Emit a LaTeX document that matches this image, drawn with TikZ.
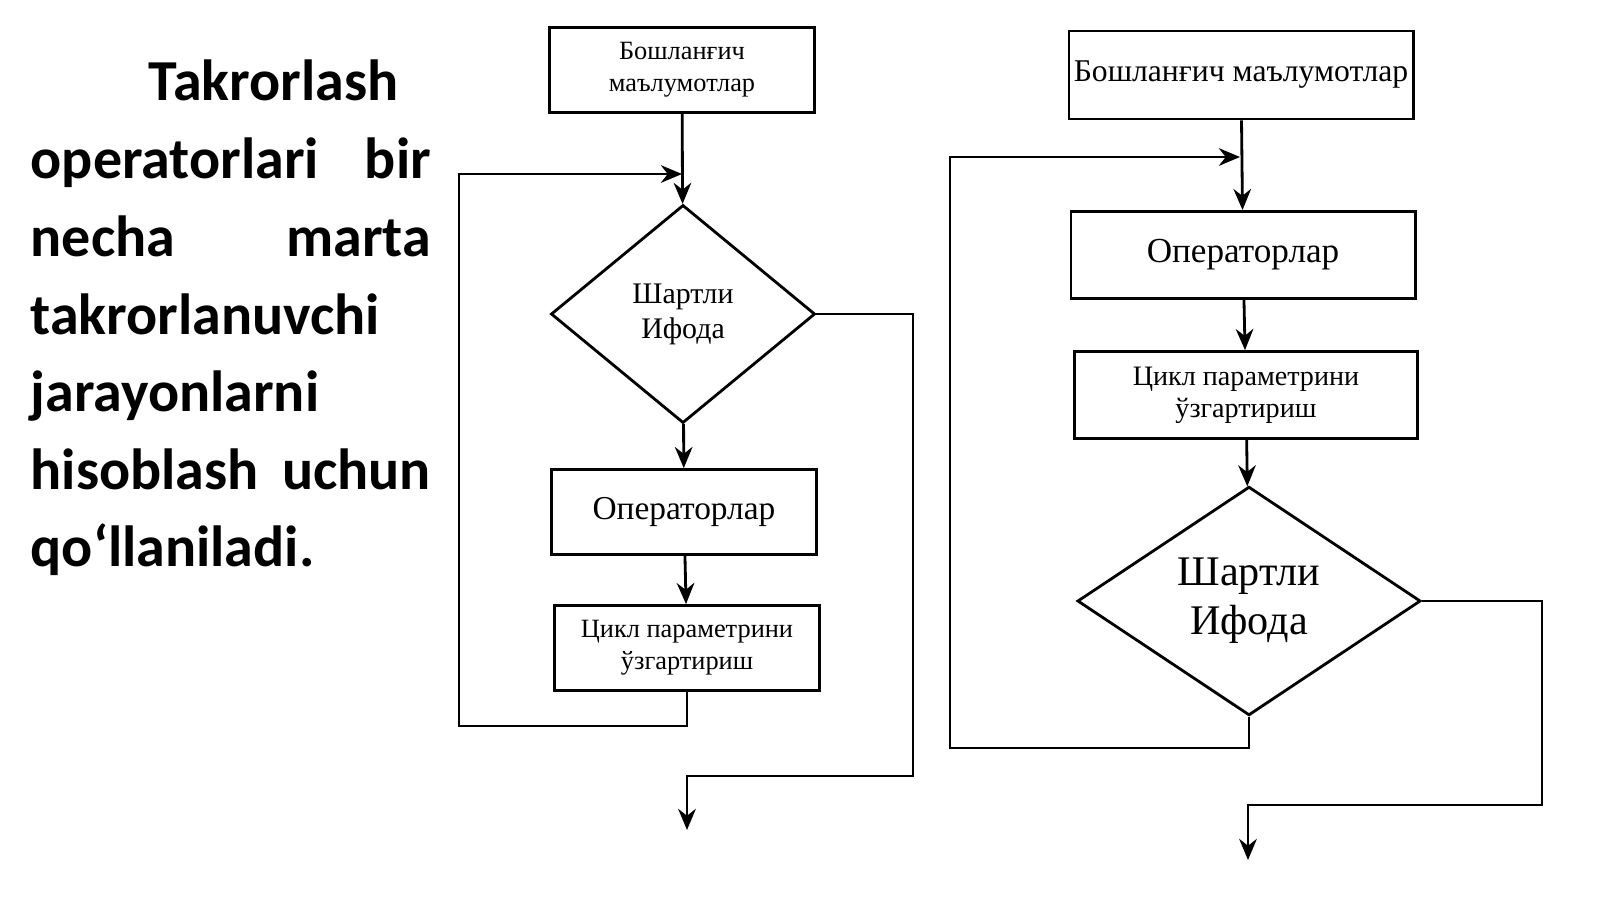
\documentclass[tikz,border=0pt]{standalone}
\usepackage{fontspec}
\setmainfont{Liberation Serif}
\newfontfamily\calib{Carlito}
\usetikzlibrary{shapes.geometric,arrows.meta,calc}
\tikzset{
  box/.style={draw,thick,rectangle,inner sep=1pt,align=center},
  decision/.style={draw,thick,diamond,inner sep=0pt,align=center},
  line/.style={draw,thick},
  arrow/.style={line,-{Stealth[length=6pt,width=5pt]}},
  leftline/.style={anchor=base west,inner sep=0pt,font=\calib\bfseries\fontsize{16.5}{20}\selectfont}
}
\begin{document}
\begin{tikzpicture}[x=0.01cm,y=-0.01cm]
\useasboundingbox (0,0) rectangle (1600,899);
% text on the left
\node[leftline] (t1) at (148,100) {Takrorlash};
\foreach \txt/\yy in {operatorlari bir/178,necha marta/256,hisoblash uchun/489}{
  \node[leftline] at (30,\yy) {\makebox[4cm][s]{\txt}};
}
\node[leftline] (t4) at (30,334) {takrorlanuvchi};
\node[leftline] (t5) at (30,411) {jarayonlarni};
\node[leftline] (t7) at (30,566) {qo‘llaniladi.};

% left flowchart
\node[box,minimum width=2.65cm,minimum height=0.85cm,font=\fontsize{7.5}{9}\selectfont] (b1) at (682,70) {Бошланғич\\маълумотлар};
\node[decision,minimum width=2.64cm,minimum height=2.18cm,font=\fontsize{8.5}{10}\selectfont] (d1) at (683,314) {Шартли\\Ифода};
\node[box,minimum width=2.65cm,minimum height=0.85cm,font=\fontsize{9.5}{11}\selectfont] (o1) at (684,512) {Операторлар};
\node[box,minimum width=2.65cm,minimum height=0.85cm,font=\fontsize{7.5}{9}\selectfont] (c1) at (687,648) {Цикл параметрини\\ўзгартириш};
\coordinate (l1) at (459,726);
\coordinate (j1) at (682,174);
\coordinate (r1) at (913,776);
\coordinate (e1) at (687,830);
\draw[arrow] (b1) -- (d1);
\draw[arrow] (d1) -- (o1);
\draw[arrow] (o1) -- (c1);
\draw[arrow] (c1.south) |- (l1) |- (j1);
\draw[arrow] (d1.east) -| (r1) -| (e1);

% right flowchart
\node[box,minimum width=3.44cm,minimum height=0.88cm,font=\fontsize{9}{11}\selectfont] (b2) at (1241,75) {Бошланғич маълумотлар};
\node[box,minimum width=3.44cm,minimum height=0.87cm,font=\fontsize{10}{12}\selectfont] (o2) at (1243,255) {Операторлар};
\node[box,minimum width=3.43cm,minimum height=0.87cm,font=\fontsize{8}{9}\selectfont] (c2) at (1246,395) {Цикл параметрини\\ўзгартириш};
\node[decision,minimum width=3.43cm,minimum height=2.25cm,font=\fontsize{12}{14}\selectfont] (d2) at (1249,601) {Шартли\\Ифода};
\coordinate (l2) at (950,748);
\coordinate (j2) at (1240,157);
\coordinate (r2) at (1542,805);
\coordinate (e2) at (1248,860);
\draw[arrow] (b2) -- (o2);
\draw[arrow] (o2) -- (c2);
\draw[arrow] (c2) -- (d2);
\draw[arrow] (d2.south) |- (l2) |- (j2);
\draw[arrow] (d2.east) -| (r2) -| (e2);
\end{tikzpicture}
\end{document}
